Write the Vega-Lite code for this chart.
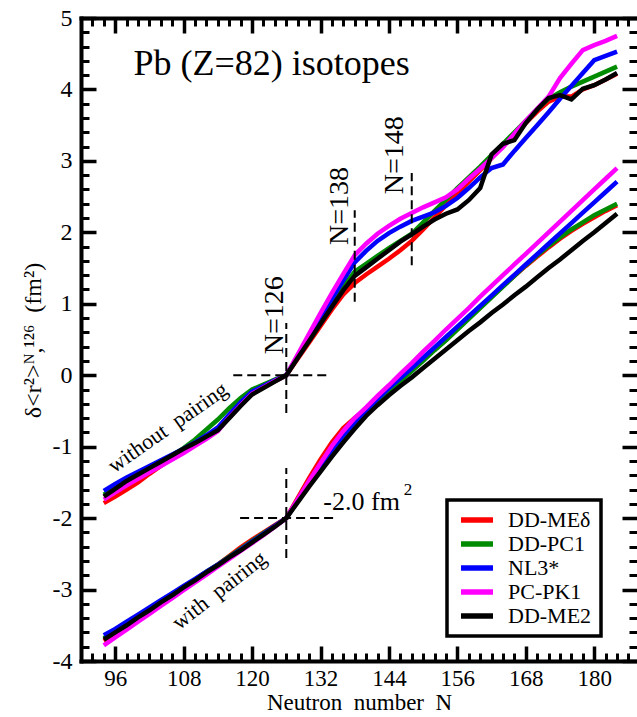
{
  "$schema": "https://vega.github.io/schema/vega-lite/v6.json",
  "width": 556,
  "height": 643,
  "autosize": {"type": "none"},
  "padding": {"left": 81, "top": 18, "right": 0, "bottom": 56},
  "background": "white",
  "config": {
    "font": "Liberation Serif, Times New Roman, DejaVu Serif, serif",
    "view": {"stroke": null},
    "text": {"font": "Liberation Serif, Times New Roman, DejaVu Serif, serif"},
    "axis": {"grid": false, "tickColor": "black", "domainColor": "black", "labelColor": "black", "titleColor": "black", "titleFontWeight": "normal", "domainCap": "square",
      "labelFont": "Liberation Serif, Times New Roman, DejaVu Serif, serif", "titleFont": "Liberation Serif, Times New Roman, DejaVu Serif, serif"},
    "legend": {"strokeWidth": 3.5, "labelFont": "Liberation Serif, Times New Roman, DejaVu Serif, serif"}
  },
  "resolve": {"axis": {"x": "independent", "y": "independent"}},
  "datasets": {
    "without": [
      {"model": "DD-MEδ", "N": 94, "r2": -1.79}, {"model": "DD-MEδ", "N": 96, "r2": -1.70}, {"model": "DD-MEδ", "N": 98, "r2": -1.60}, {"model": "DD-MEδ", "N": 100, "r2": -1.50},
      {"model": "DD-MEδ", "N": 102, "r2": -1.38}, {"model": "DD-MEδ", "N": 104, "r2": -1.27}, {"model": "DD-MEδ", "N": 106, "r2": -1.16}, {"model": "DD-MEδ", "N": 108, "r2": -1.05},
      {"model": "DD-MEδ", "N": 110, "r2": -0.95}, {"model": "DD-MEδ", "N": 112, "r2": -0.85}, {"model": "DD-MEδ", "N": 114, "r2": -0.75}, {"model": "DD-MEδ", "N": 116, "r2": -0.57},
      {"model": "DD-MEδ", "N": 118, "r2": -0.41}, {"model": "DD-MEδ", "N": 120, "r2": -0.25}, {"model": "DD-MEδ", "N": 122, "r2": -0.16}, {"model": "DD-MEδ", "N": 124, "r2": -0.08},
      {"model": "DD-MEδ", "N": 126, "r2": 0}, {"model": "DD-MEδ", "N": 128, "r2": 0.23}, {"model": "DD-MEδ", "N": 130, "r2": 0.46}, {"model": "DD-MEδ", "N": 132, "r2": 0.69},
      {"model": "DD-MEδ", "N": 134, "r2": 0.92}, {"model": "DD-MEδ", "N": 136, "r2": 1.13}, {"model": "DD-MEδ", "N": 138, "r2": 1.29}, {"model": "DD-MEδ", "N": 140, "r2": 1.41},
      {"model": "DD-MEδ", "N": 142, "r2": 1.52}, {"model": "DD-MEδ", "N": 144, "r2": 1.63}, {"model": "DD-MEδ", "N": 146, "r2": 1.75}, {"model": "DD-MEδ", "N": 148, "r2": 1.88},
      {"model": "DD-MEδ", "N": 150, "r2": 2.04}, {"model": "DD-MEδ", "N": 152, "r2": 2.21}, {"model": "DD-MEδ", "N": 154, "r2": 2.38}, {"model": "DD-MEδ", "N": 156, "r2": 2.55},
      {"model": "DD-MEδ", "N": 158, "r2": 2.71}, {"model": "DD-MEδ", "N": 160, "r2": 2.87}, {"model": "DD-MEδ", "N": 162, "r2": 3.04}, {"model": "DD-MEδ", "N": 164, "r2": 3.21},
      {"model": "DD-MEδ", "N": 166, "r2": 3.37}, {"model": "DD-MEδ", "N": 168, "r2": 3.53}, {"model": "DD-MEδ", "N": 170, "r2": 3.69}, {"model": "DD-MEδ", "N": 172, "r2": 3.83},
      {"model": "DD-MEδ", "N": 174, "r2": 3.90}, {"model": "DD-MEδ", "N": 176, "r2": 3.90}, {"model": "DD-MEδ", "N": 178, "r2": 4.00}, {"model": "DD-MEδ", "N": 180, "r2": 4.06},
      {"model": "DD-MEδ", "N": 182, "r2": 4.14}, {"model": "DD-MEδ", "N": 184, "r2": 4.22},

      {"model": "DD-PC1", "N": 94, "r2": -1.67}, {"model": "DD-PC1", "N": 96, "r2": -1.57}, {"model": "DD-PC1", "N": 98, "r2": -1.47}, {"model": "DD-PC1", "N": 100, "r2": -1.38},
      {"model": "DD-PC1", "N": 102, "r2": -1.30}, {"model": "DD-PC1", "N": 104, "r2": -1.21}, {"model": "DD-PC1", "N": 106, "r2": -1.12}, {"model": "DD-PC1", "N": 108, "r2": -1.02},
      {"model": "DD-PC1", "N": 110, "r2": -0.90}, {"model": "DD-PC1", "N": 112, "r2": -0.76}, {"model": "DD-PC1", "N": 114, "r2": -0.62}, {"model": "DD-PC1", "N": 116, "r2": -0.46},
      {"model": "DD-PC1", "N": 118, "r2": -0.32}, {"model": "DD-PC1", "N": 120, "r2": -0.20}, {"model": "DD-PC1", "N": 122, "r2": -0.13}, {"model": "DD-PC1", "N": 124, "r2": -0.06},
      {"model": "DD-PC1", "N": 126, "r2": 0}, {"model": "DD-PC1", "N": 128, "r2": 0.25}, {"model": "DD-PC1", "N": 130, "r2": 0.50}, {"model": "DD-PC1", "N": 132, "r2": 0.75},
      {"model": "DD-PC1", "N": 134, "r2": 1.00}, {"model": "DD-PC1", "N": 136, "r2": 1.24}, {"model": "DD-PC1", "N": 138, "r2": 1.45}, {"model": "DD-PC1", "N": 140, "r2": 1.56},
      {"model": "DD-PC1", "N": 142, "r2": 1.67}, {"model": "DD-PC1", "N": 144, "r2": 1.78}, {"model": "DD-PC1", "N": 146, "r2": 1.88}, {"model": "DD-PC1", "N": 148, "r2": 1.98},
      {"model": "DD-PC1", "N": 150, "r2": 2.14}, {"model": "DD-PC1", "N": 152, "r2": 2.30}, {"model": "DD-PC1", "N": 154, "r2": 2.46}, {"model": "DD-PC1", "N": 156, "r2": 2.62},
      {"model": "DD-PC1", "N": 158, "r2": 2.77}, {"model": "DD-PC1", "N": 160, "r2": 2.92}, {"model": "DD-PC1", "N": 162, "r2": 3.08}, {"model": "DD-PC1", "N": 164, "r2": 3.24},
      {"model": "DD-PC1", "N": 166, "r2": 3.40}, {"model": "DD-PC1", "N": 168, "r2": 3.56}, {"model": "DD-PC1", "N": 170, "r2": 3.72}, {"model": "DD-PC1", "N": 172, "r2": 3.87},
      {"model": "DD-PC1", "N": 174, "r2": 3.96}, {"model": "DD-PC1", "N": 176, "r2": 4.04}, {"model": "DD-PC1", "N": 178, "r2": 4.11}, {"model": "DD-PC1", "N": 180, "r2": 4.18},
      {"model": "DD-PC1", "N": 182, "r2": 4.25}, {"model": "DD-PC1", "N": 184, "r2": 4.32},

      {"model": "NL3*", "N": 94, "r2": -1.62}, {"model": "NL3*", "N": 96, "r2": -1.52}, {"model": "NL3*", "N": 98, "r2": -1.43}, {"model": "NL3*", "N": 100, "r2": -1.35},
      {"model": "NL3*", "N": 102, "r2": -1.27}, {"model": "NL3*", "N": 104, "r2": -1.19}, {"model": "NL3*", "N": 106, "r2": -1.11}, {"model": "NL3*", "N": 108, "r2": -1.03},
      {"model": "NL3*", "N": 110, "r2": -0.94}, {"model": "NL3*", "N": 112, "r2": -0.84}, {"model": "NL3*", "N": 114, "r2": -0.73}, {"model": "NL3*", "N": 116, "r2": -0.55},
      {"model": "NL3*", "N": 118, "r2": -0.38}, {"model": "NL3*", "N": 120, "r2": -0.23}, {"model": "NL3*", "N": 122, "r2": -0.15}, {"model": "NL3*", "N": 124, "r2": -0.07},
      {"model": "NL3*", "N": 126, "r2": 0}, {"model": "NL3*", "N": 128, "r2": 0.27}, {"model": "NL3*", "N": 130, "r2": 0.54}, {"model": "NL3*", "N": 132, "r2": 0.81},
      {"model": "NL3*", "N": 134, "r2": 1.07}, {"model": "NL3*", "N": 136, "r2": 1.33}, {"model": "NL3*", "N": 138, "r2": 1.58}, {"model": "NL3*", "N": 140, "r2": 1.74},
      {"model": "NL3*", "N": 142, "r2": 1.88}, {"model": "NL3*", "N": 144, "r2": 1.99}, {"model": "NL3*", "N": 146, "r2": 2.08}, {"model": "NL3*", "N": 148, "r2": 2.16},
      {"model": "NL3*", "N": 150, "r2": 2.22}, {"model": "NL3*", "N": 152, "r2": 2.28}, {"model": "NL3*", "N": 154, "r2": 2.37}, {"model": "NL3*", "N": 156, "r2": 2.48},
      {"model": "NL3*", "N": 158, "r2": 2.62}, {"model": "NL3*", "N": 160, "r2": 2.77}, {"model": "NL3*", "N": 162, "r2": 2.90}, {"model": "NL3*", "N": 164, "r2": 2.95},
      {"model": "NL3*", "N": 166, "r2": 3.14}, {"model": "NL3*", "N": 168, "r2": 3.32}, {"model": "NL3*", "N": 170, "r2": 3.50}, {"model": "NL3*", "N": 172, "r2": 3.68},
      {"model": "NL3*", "N": 174, "r2": 3.87}, {"model": "NL3*", "N": 176, "r2": 4.05}, {"model": "NL3*", "N": 178, "r2": 4.23}, {"model": "NL3*", "N": 180, "r2": 4.41},
      {"model": "NL3*", "N": 182, "r2": 4.47}, {"model": "NL3*", "N": 184, "r2": 4.53},

      {"model": "PC-PK1", "N": 94, "r2": -1.74}, {"model": "PC-PK1", "N": 96, "r2": -1.64}, {"model": "PC-PK1", "N": 98, "r2": -1.54}, {"model": "PC-PK1", "N": 100, "r2": -1.45},
      {"model": "PC-PK1", "N": 102, "r2": -1.36}, {"model": "PC-PK1", "N": 104, "r2": -1.27}, {"model": "PC-PK1", "N": 106, "r2": -1.18}, {"model": "PC-PK1", "N": 108, "r2": -1.09},
      {"model": "PC-PK1", "N": 110, "r2": -0.99}, {"model": "PC-PK1", "N": 112, "r2": -0.89}, {"model": "PC-PK1", "N": 114, "r2": -0.78}, {"model": "PC-PK1", "N": 116, "r2": -0.59},
      {"model": "PC-PK1", "N": 118, "r2": -0.42}, {"model": "PC-PK1", "N": 120, "r2": -0.26}, {"model": "PC-PK1", "N": 122, "r2": -0.17}, {"model": "PC-PK1", "N": 124, "r2": -0.08},
      {"model": "PC-PK1", "N": 126, "r2": 0}, {"model": "PC-PK1", "N": 128, "r2": 0.29}, {"model": "PC-PK1", "N": 130, "r2": 0.58}, {"model": "PC-PK1", "N": 132, "r2": 0.87},
      {"model": "PC-PK1", "N": 134, "r2": 1.15}, {"model": "PC-PK1", "N": 136, "r2": 1.42}, {"model": "PC-PK1", "N": 138, "r2": 1.68}, {"model": "PC-PK1", "N": 140, "r2": 1.84},
      {"model": "PC-PK1", "N": 142, "r2": 1.98}, {"model": "PC-PK1", "N": 144, "r2": 2.09}, {"model": "PC-PK1", "N": 146, "r2": 2.19}, {"model": "PC-PK1", "N": 148, "r2": 2.27},
      {"model": "PC-PK1", "N": 150, "r2": 2.35}, {"model": "PC-PK1", "N": 152, "r2": 2.42}, {"model": "PC-PK1", "N": 154, "r2": 2.49}, {"model": "PC-PK1", "N": 156, "r2": 2.60},
      {"model": "PC-PK1", "N": 158, "r2": 2.75}, {"model": "PC-PK1", "N": 160, "r2": 2.89}, {"model": "PC-PK1", "N": 162, "r2": 3.04}, {"model": "PC-PK1", "N": 164, "r2": 3.19},
      {"model": "PC-PK1", "N": 166, "r2": 3.38}, {"model": "PC-PK1", "N": 168, "r2": 3.56}, {"model": "PC-PK1", "N": 170, "r2": 3.73}, {"model": "PC-PK1", "N": 172, "r2": 3.90},
      {"model": "PC-PK1", "N": 174, "r2": 4.16}, {"model": "PC-PK1", "N": 176, "r2": 4.36}, {"model": "PC-PK1", "N": 178, "r2": 4.55}, {"model": "PC-PK1", "N": 180, "r2": 4.62},
      {"model": "PC-PK1", "N": 182, "r2": 4.68}, {"model": "PC-PK1", "N": 184, "r2": 4.75},

      {"model": "DD-ME2", "N": 94, "r2": -1.70}, {"model": "DD-ME2", "N": 96, "r2": -1.59}, {"model": "DD-ME2", "N": 98, "r2": -1.48}, {"model": "DD-ME2", "N": 100, "r2": -1.39},
      {"model": "DD-ME2", "N": 102, "r2": -1.30}, {"model": "DD-ME2", "N": 104, "r2": -1.21}, {"model": "DD-ME2", "N": 106, "r2": -1.12}, {"model": "DD-ME2", "N": 108, "r2": -1.03},
      {"model": "DD-ME2", "N": 110, "r2": -0.95}, {"model": "DD-ME2", "N": 112, "r2": -0.86}, {"model": "DD-ME2", "N": 114, "r2": -0.77}, {"model": "DD-ME2", "N": 116, "r2": -0.60},
      {"model": "DD-ME2", "N": 118, "r2": -0.43}, {"model": "DD-ME2", "N": 120, "r2": -0.27}, {"model": "DD-ME2", "N": 122, "r2": -0.18}, {"model": "DD-ME2", "N": 124, "r2": -0.09},
      {"model": "DD-ME2", "N": 126, "r2": 0}, {"model": "DD-ME2", "N": 128, "r2": 0.24}, {"model": "DD-ME2", "N": 130, "r2": 0.48}, {"model": "DD-ME2", "N": 132, "r2": 0.72},
      {"model": "DD-ME2", "N": 134, "r2": 0.96}, {"model": "DD-ME2", "N": 136, "r2": 1.19}, {"model": "DD-ME2", "N": 138, "r2": 1.39}, {"model": "DD-ME2", "N": 140, "r2": 1.51},
      {"model": "DD-ME2", "N": 142, "r2": 1.63}, {"model": "DD-ME2", "N": 144, "r2": 1.75}, {"model": "DD-ME2", "N": 146, "r2": 1.87}, {"model": "DD-ME2", "N": 148, "r2": 1.97},
      {"model": "DD-ME2", "N": 150, "r2": 2.08}, {"model": "DD-ME2", "N": 152, "r2": 2.18}, {"model": "DD-ME2", "N": 154, "r2": 2.26}, {"model": "DD-ME2", "N": 156, "r2": 2.32},
      {"model": "DD-ME2", "N": 158, "r2": 2.45}, {"model": "DD-ME2", "N": 160, "r2": 2.62}, {"model": "DD-ME2", "N": 162, "r2": 3.09}, {"model": "DD-ME2", "N": 164, "r2": 3.24},
      {"model": "DD-ME2", "N": 166, "r2": 3.29}, {"model": "DD-ME2", "N": 168, "r2": 3.53}, {"model": "DD-ME2", "N": 170, "r2": 3.72}, {"model": "DD-ME2", "N": 172, "r2": 3.88},
      {"model": "DD-ME2", "N": 174, "r2": 3.92}, {"model": "DD-ME2", "N": 176, "r2": 3.86}, {"model": "DD-ME2", "N": 178, "r2": 4.01}, {"model": "DD-ME2", "N": 180, "r2": 4.06},
      {"model": "DD-ME2", "N": 182, "r2": 4.14}, {"model": "DD-ME2", "N": 184, "r2": 4.23}
    ],
    "with": [
      {"model": "DD-MEδ", "N": 94, "r2": -3.72}, {"model": "DD-MEδ", "N": 96, "r2": -3.62}, {"model": "DD-MEδ", "N": 98, "r2": -3.52}, {"model": "DD-MEδ", "N": 100, "r2": -3.41},
      {"model": "DD-MEδ", "N": 102, "r2": -3.31}, {"model": "DD-MEδ", "N": 104, "r2": -3.20}, {"model": "DD-MEδ", "N": 106, "r2": -3.09}, {"model": "DD-MEδ", "N": 108, "r2": -2.98},
      {"model": "DD-MEδ", "N": 110, "r2": -2.87}, {"model": "DD-MEδ", "N": 112, "r2": -2.76}, {"model": "DD-MEδ", "N": 114, "r2": -2.65}, {"model": "DD-MEδ", "N": 116, "r2": -2.53},
      {"model": "DD-MEδ", "N": 118, "r2": -2.41}, {"model": "DD-MEδ", "N": 120, "r2": -2.30}, {"model": "DD-MEδ", "N": 122, "r2": -2.20}, {"model": "DD-MEδ", "N": 124, "r2": -2.10},
      {"model": "DD-MEδ", "N": 126, "r2": -2.00}, {"model": "DD-MEδ", "N": 128, "r2": -1.72}, {"model": "DD-MEδ", "N": 130, "r2": -1.44}, {"model": "DD-MEδ", "N": 132, "r2": -1.18},
      {"model": "DD-MEδ", "N": 134, "r2": -0.94}, {"model": "DD-MEδ", "N": 136, "r2": -0.74}, {"model": "DD-MEδ", "N": 138, "r2": -0.60}, {"model": "DD-MEδ", "N": 140, "r2": -0.47},
      {"model": "DD-MEδ", "N": 142, "r2": -0.33}, {"model": "DD-MEδ", "N": 144, "r2": -0.19}, {"model": "DD-MEδ", "N": 146, "r2": -0.05}, {"model": "DD-MEδ", "N": 148, "r2": 0.08},
      {"model": "DD-MEδ", "N": 150, "r2": 0.22}, {"model": "DD-MEδ", "N": 152, "r2": 0.36}, {"model": "DD-MEδ", "N": 154, "r2": 0.50}, {"model": "DD-MEδ", "N": 156, "r2": 0.65},
      {"model": "DD-MEδ", "N": 158, "r2": 0.80}, {"model": "DD-MEδ", "N": 160, "r2": 0.95}, {"model": "DD-MEδ", "N": 162, "r2": 1.10}, {"model": "DD-MEδ", "N": 164, "r2": 1.25},
      {"model": "DD-MEδ", "N": 166, "r2": 1.39}, {"model": "DD-MEδ", "N": 168, "r2": 1.53}, {"model": "DD-MEδ", "N": 170, "r2": 1.66}, {"model": "DD-MEδ", "N": 172, "r2": 1.79},
      {"model": "DD-MEδ", "N": 174, "r2": 1.91}, {"model": "DD-MEδ", "N": 176, "r2": 2.02}, {"model": "DD-MEδ", "N": 178, "r2": 2.12}, {"model": "DD-MEδ", "N": 180, "r2": 2.21},
      {"model": "DD-MEδ", "N": 182, "r2": 2.30}, {"model": "DD-MEδ", "N": 184, "r2": 2.38},

      {"model": "DD-PC1", "N": 94, "r2": -3.68}, {"model": "DD-PC1", "N": 96, "r2": -3.58}, {"model": "DD-PC1", "N": 98, "r2": -3.48}, {"model": "DD-PC1", "N": 100, "r2": -3.38},
      {"model": "DD-PC1", "N": 102, "r2": -3.28}, {"model": "DD-PC1", "N": 104, "r2": -3.17}, {"model": "DD-PC1", "N": 106, "r2": -3.07}, {"model": "DD-PC1", "N": 108, "r2": -2.96},
      {"model": "DD-PC1", "N": 110, "r2": -2.86}, {"model": "DD-PC1", "N": 112, "r2": -2.75}, {"model": "DD-PC1", "N": 114, "r2": -2.65}, {"model": "DD-PC1", "N": 116, "r2": -2.54},
      {"model": "DD-PC1", "N": 118, "r2": -2.43}, {"model": "DD-PC1", "N": 120, "r2": -2.32}, {"model": "DD-PC1", "N": 122, "r2": -2.21}, {"model": "DD-PC1", "N": 124, "r2": -2.11},
      {"model": "DD-PC1", "N": 126, "r2": -2.00}, {"model": "DD-PC1", "N": 128, "r2": -1.76}, {"model": "DD-PC1", "N": 130, "r2": -1.52}, {"model": "DD-PC1", "N": 132, "r2": -1.29},
      {"model": "DD-PC1", "N": 134, "r2": -1.08}, {"model": "DD-PC1", "N": 136, "r2": -0.88}, {"model": "DD-PC1", "N": 138, "r2": -0.70}, {"model": "DD-PC1", "N": 140, "r2": -0.53},
      {"model": "DD-PC1", "N": 142, "r2": -0.37}, {"model": "DD-PC1", "N": 144, "r2": -0.22}, {"model": "DD-PC1", "N": 146, "r2": -0.08}, {"model": "DD-PC1", "N": 148, "r2": 0.06},
      {"model": "DD-PC1", "N": 150, "r2": 0.20}, {"model": "DD-PC1", "N": 152, "r2": 0.35}, {"model": "DD-PC1", "N": 154, "r2": 0.49}, {"model": "DD-PC1", "N": 156, "r2": 0.64},
      {"model": "DD-PC1", "N": 158, "r2": 0.79}, {"model": "DD-PC1", "N": 160, "r2": 0.94}, {"model": "DD-PC1", "N": 162, "r2": 1.09}, {"model": "DD-PC1", "N": 164, "r2": 1.24},
      {"model": "DD-PC1", "N": 166, "r2": 1.39}, {"model": "DD-PC1", "N": 168, "r2": 1.54}, {"model": "DD-PC1", "N": 170, "r2": 1.68}, {"model": "DD-PC1", "N": 172, "r2": 1.81},
      {"model": "DD-PC1", "N": 174, "r2": 1.93}, {"model": "DD-PC1", "N": 176, "r2": 2.04}, {"model": "DD-PC1", "N": 178, "r2": 2.14}, {"model": "DD-PC1", "N": 180, "r2": 2.24},
      {"model": "DD-PC1", "N": 182, "r2": 2.32}, {"model": "DD-PC1", "N": 184, "r2": 2.40},

      {"model": "NL3*", "N": 94, "r2": -3.64}, {"model": "NL3*", "N": 96, "r2": -3.55}, {"model": "NL3*", "N": 98, "r2": -3.45}, {"model": "NL3*", "N": 100, "r2": -3.35},
      {"model": "NL3*", "N": 102, "r2": -3.25}, {"model": "NL3*", "N": 104, "r2": -3.15}, {"model": "NL3*", "N": 106, "r2": -3.05}, {"model": "NL3*", "N": 108, "r2": -2.95},
      {"model": "NL3*", "N": 110, "r2": -2.85}, {"model": "NL3*", "N": 112, "r2": -2.75}, {"model": "NL3*", "N": 114, "r2": -2.65}, {"model": "NL3*", "N": 116, "r2": -2.55},
      {"model": "NL3*", "N": 118, "r2": -2.44}, {"model": "NL3*", "N": 120, "r2": -2.33}, {"model": "NL3*", "N": 122, "r2": -2.22}, {"model": "NL3*", "N": 124, "r2": -2.11},
      {"model": "NL3*", "N": 126, "r2": -2.00}, {"model": "NL3*", "N": 128, "r2": -1.75}, {"model": "NL3*", "N": 130, "r2": -1.50}, {"model": "NL3*", "N": 132, "r2": -1.26},
      {"model": "NL3*", "N": 134, "r2": -1.04}, {"model": "NL3*", "N": 136, "r2": -0.84}, {"model": "NL3*", "N": 138, "r2": -0.66}, {"model": "NL3*", "N": 140, "r2": -0.49},
      {"model": "NL3*", "N": 142, "r2": -0.33}, {"model": "NL3*", "N": 144, "r2": -0.18}, {"model": "NL3*", "N": 146, "r2": -0.04}, {"model": "NL3*", "N": 148, "r2": 0.10},
      {"model": "NL3*", "N": 150, "r2": 0.245}, {"model": "NL3*", "N": 152, "r2": 0.39}, {"model": "NL3*", "N": 154, "r2": 0.535}, {"model": "NL3*", "N": 156, "r2": 0.68},
      {"model": "NL3*", "N": 158, "r2": 0.825}, {"model": "NL3*", "N": 160, "r2": 0.97}, {"model": "NL3*", "N": 162, "r2": 1.115}, {"model": "NL3*", "N": 164, "r2": 1.26},
      {"model": "NL3*", "N": 166, "r2": 1.405}, {"model": "NL3*", "N": 168, "r2": 1.55}, {"model": "NL3*", "N": 170, "r2": 1.695}, {"model": "NL3*", "N": 172, "r2": 1.84},
      {"model": "NL3*", "N": 174, "r2": 1.985}, {"model": "NL3*", "N": 176, "r2": 2.13}, {"model": "NL3*", "N": 178, "r2": 2.275}, {"model": "NL3*", "N": 180, "r2": 2.42},
      {"model": "NL3*", "N": 182, "r2": 2.565}, {"model": "NL3*", "N": 184, "r2": 2.71},

      {"model": "PC-PK1", "N": 94, "r2": -3.78}, {"model": "PC-PK1", "N": 96, "r2": -3.67}, {"model": "PC-PK1", "N": 98, "r2": -3.56}, {"model": "PC-PK1", "N": 100, "r2": -3.45},
      {"model": "PC-PK1", "N": 102, "r2": -3.34}, {"model": "PC-PK1", "N": 104, "r2": -3.23}, {"model": "PC-PK1", "N": 106, "r2": -3.12}, {"model": "PC-PK1", "N": 108, "r2": -3.01},
      {"model": "PC-PK1", "N": 110, "r2": -2.90}, {"model": "PC-PK1", "N": 112, "r2": -2.79}, {"model": "PC-PK1", "N": 114, "r2": -2.68}, {"model": "PC-PK1", "N": 116, "r2": -2.57},
      {"model": "PC-PK1", "N": 118, "r2": -2.46}, {"model": "PC-PK1", "N": 120, "r2": -2.35}, {"model": "PC-PK1", "N": 122, "r2": -2.24}, {"model": "PC-PK1", "N": 124, "r2": -2.12},
      {"model": "PC-PK1", "N": 126, "r2": -2.00}, {"model": "PC-PK1", "N": 128, "r2": -1.74}, {"model": "PC-PK1", "N": 130, "r2": -1.48}, {"model": "PC-PK1", "N": 132, "r2": -1.23},
      {"model": "PC-PK1", "N": 134, "r2": -0.99}, {"model": "PC-PK1", "N": 136, "r2": -0.78}, {"model": "PC-PK1", "N": 138, "r2": -0.60}, {"model": "PC-PK1", "N": 140, "r2": -0.45},
      {"model": "PC-PK1", "N": 142, "r2": -0.29}, {"model": "PC-PK1", "N": 144, "r2": -0.14}, {"model": "PC-PK1", "N": 146, "r2": 0.02}, {"model": "PC-PK1", "N": 148, "r2": 0.17},
      {"model": "PC-PK1", "N": 150, "r2": 0.33}, {"model": "PC-PK1", "N": 152, "r2": 0.48}, {"model": "PC-PK1", "N": 154, "r2": 0.64}, {"model": "PC-PK1", "N": 156, "r2": 0.79},
      {"model": "PC-PK1", "N": 158, "r2": 0.94}, {"model": "PC-PK1", "N": 160, "r2": 1.10}, {"model": "PC-PK1", "N": 162, "r2": 1.25}, {"model": "PC-PK1", "N": 164, "r2": 1.40},
      {"model": "PC-PK1", "N": 166, "r2": 1.55}, {"model": "PC-PK1", "N": 168, "r2": 1.70}, {"model": "PC-PK1", "N": 170, "r2": 1.85}, {"model": "PC-PK1", "N": 172, "r2": 2.00},
      {"model": "PC-PK1", "N": 174, "r2": 2.15}, {"model": "PC-PK1", "N": 176, "r2": 2.30}, {"model": "PC-PK1", "N": 178, "r2": 2.45}, {"model": "PC-PK1", "N": 180, "r2": 2.60},
      {"model": "PC-PK1", "N": 182, "r2": 2.75}, {"model": "PC-PK1", "N": 184, "r2": 2.90},

      {"model": "DD-ME2", "N": 94, "r2": -3.70}, {"model": "DD-ME2", "N": 96, "r2": -3.60}, {"model": "DD-ME2", "N": 98, "r2": -3.50}, {"model": "DD-ME2", "N": 100, "r2": -3.39},
      {"model": "DD-ME2", "N": 102, "r2": -3.29}, {"model": "DD-ME2", "N": 104, "r2": -3.18}, {"model": "DD-ME2", "N": 106, "r2": -3.08}, {"model": "DD-ME2", "N": 108, "r2": -2.97},
      {"model": "DD-ME2", "N": 110, "r2": -2.87}, {"model": "DD-ME2", "N": 112, "r2": -2.76}, {"model": "DD-ME2", "N": 114, "r2": -2.66}, {"model": "DD-ME2", "N": 116, "r2": -2.55},
      {"model": "DD-ME2", "N": 118, "r2": -2.45}, {"model": "DD-ME2", "N": 120, "r2": -2.34}, {"model": "DD-ME2", "N": 122, "r2": -2.23}, {"model": "DD-ME2", "N": 124, "r2": -2.12},
      {"model": "DD-ME2", "N": 126, "r2": -2.00}, {"model": "DD-ME2", "N": 128, "r2": -1.78}, {"model": "DD-ME2", "N": 130, "r2": -1.56}, {"model": "DD-ME2", "N": 132, "r2": -1.35},
      {"model": "DD-ME2", "N": 134, "r2": -1.14}, {"model": "DD-ME2", "N": 136, "r2": -0.94}, {"model": "DD-ME2", "N": 138, "r2": -0.75}, {"model": "DD-ME2", "N": 140, "r2": -0.57},
      {"model": "DD-ME2", "N": 142, "r2": -0.42}, {"model": "DD-ME2", "N": 144, "r2": -0.28}, {"model": "DD-ME2", "N": 146, "r2": -0.15}, {"model": "DD-ME2", "N": 148, "r2": -0.03},
      {"model": "DD-ME2", "N": 150, "r2": 0.10}, {"model": "DD-ME2", "N": 152, "r2": 0.23}, {"model": "DD-ME2", "N": 154, "r2": 0.36}, {"model": "DD-ME2", "N": 156, "r2": 0.49},
      {"model": "DD-ME2", "N": 158, "r2": 0.62}, {"model": "DD-ME2", "N": 160, "r2": 0.74}, {"model": "DD-ME2", "N": 162, "r2": 0.87}, {"model": "DD-ME2", "N": 164, "r2": 0.99},
      {"model": "DD-ME2", "N": 166, "r2": 1.12}, {"model": "DD-ME2", "N": 168, "r2": 1.24}, {"model": "DD-ME2", "N": 170, "r2": 1.37}, {"model": "DD-ME2", "N": 172, "r2": 1.50},
      {"model": "DD-ME2", "N": 174, "r2": 1.62}, {"model": "DD-ME2", "N": 176, "r2": 1.75}, {"model": "DD-ME2", "N": 178, "r2": 1.88}, {"model": "DD-ME2", "N": 180, "r2": 2.00},
      {"model": "DD-ME2", "N": 182, "r2": 2.13}, {"model": "DD-ME2", "N": 184, "r2": 2.26}
    ],
    "guides": [
      {"N": 116.7, "N2": 133.4, "r2": 0, "r2b": 0},
      {"N": 126, "N2": 126, "r2": -0.53, "r2b": 0.73},
      {"N": 117.9, "N2": 134.8, "r2": -2, "r2b": -2},
      {"N": 126, "N2": 126, "r2": -2.56, "r2b": -1.3},
      {"N": 138, "N2": 138, "r2": 1.03, "r2b": 2.31},
      {"N": 148, "N2": 148, "r2": 1.54, "r2b": 2.83}
    ],
    "one": [{}]
  },
  "layer": [
    {
      "data": {"name": "without"},
      "mark": {"type": "line", "strokeWidth": 4.5, "strokeJoin": "miter"},
      "encoding": {
        "x": {"field": "N", "type": "quantitative",
          "scale": {"domain": [90, 187.5], "nice": false, "zero": false},
          "axis": {"orient": "bottom", "values": [96, 108, 120, 132, 144, 156, 168, 180], "tickSize": -15, "tickWidth": 3.5,
            "domain": true, "domainWidth": 4, "labelFontSize": 23, "labelPadding": 21, "labelFlush": false, "labelOverlap": false,
            "title": "Neutron\u00a0 number\u00a0 N", "titleFontSize": 23, "titleX": 278, "titleY": 48, "titleBaseline": "alphabetic", "titleAlign": "center"}},
        "y": {"field": "r2", "type": "quantitative",
          "scale": {"domain": [-4, 5], "nice": false, "zero": false},
          "axis": {"orient": "left", "values": [-4, -3, -2, -1, 0, 1, 2, 3, 4, 5], "tickSize": -15, "tickWidth": 3.5,
            "domain": true, "domainWidth": 4, "labelFontSize": 24, "labelPadding": 24, "labelFlush": false, "labelOverlap": false,
            "labelExpr": "datum.value + ''",
            "title": "δ<r²>ᴺ,¹²⁶\u00a0 (fm²)", "titleFontSize": 24, "titleAngle": 270, "titleX": -41, "titleY": 322, "titleBaseline": "alphabetic", "titleAlign": "center"}},
        "color": {"field": "model", "type": "nominal",
          "scale": {"domain": ["DD-MEδ", "DD-PC1", "NL3*", "PC-PK1", "DD-ME2"], "range": ["#ff0000", "#008b00", "#0000ff", "#ff00ff", "#000000"]},
          "legend": {"orient": "none", "legendX": 366, "legendY": 482, "title": null, "symbolType": "M-2,0L2,0", "symbolSize": 256,
            "symbolStrokeWidth": 5.5, "symbolOffset": 10, "labelOffset": 20, "labelFontSize": 22, "labelColor": "black",
            "padding": 9, "rowPadding": 2, "strokeColor": "black"}}
      }
    },
    {
      "data": {"name": "with"},
      "mark": {"type": "line", "strokeWidth": 4.5, "strokeJoin": "miter"},
      "encoding": {
        "x": {"field": "N", "type": "quantitative",
          "scale": {"domain": [90, 187.5], "nice": false, "zero": false},
          "axis": {"orient": "bottom", "values": [90, 92, 94, 96, 98, 100, 102, 104, 106, 108, 110, 112, 114, 116, 118, 120, 122, 124, 126, 128, 130, 132, 134, 136, 138, 140, 142, 144, 146, 148, 150, 152, 154, 156, 158, 160, 162, 164, 166, 168, 170, 172, 174, 176, 178, 180, 182, 184, 186],
            "tickSize": -8, "tickWidth": 3, "domain": false, "labels": false, "title": null}},
        "y": {"field": "r2", "type": "quantitative",
          "scale": {"domain": [-4, 5], "nice": false, "zero": false},
          "axis": {"orient": "left", "values": [-3.8, -3.6, -3.4, -3.2, -2.8, -2.6, -2.4, -2.2, -1.8, -1.6, -1.4, -1.2, -0.8, -0.6, -0.4, -0.2, 0.2, 0.4, 0.6, 0.8, 1.2, 1.4, 1.6, 1.8, 2.2, 2.4, 2.6, 2.8, 3.2, 3.4, 3.6, 3.8, 4.2, 4.4, 4.6, 4.8],
            "tickSize": -8, "tickWidth": 3, "domain": false, "labels": false, "title": null}},
        "color": {"field": "model", "type": "nominal",
          "scale": {"domain": ["DD-MEδ", "DD-PC1", "NL3*", "PC-PK1", "DD-ME2"], "range": ["#ff0000", "#008b00", "#0000ff", "#ff00ff", "#000000"]},
          "legend": null}
      }
    },
    {
      "data": {"name": "guides"},
      "mark": {"type": "rule", "color": "black", "strokeWidth": 2, "strokeDash": [9, 5]},
      "encoding": {
        "x": {"field": "N", "type": "quantitative",
          "scale": {"domain": [90, 187.5], "nice": false, "zero": false},
          "axis": {"orient": "top", "values": [96, 108, 120, 132, 144, 156, 168, 180], "tickSize": -15, "tickWidth": 3.5,
            "domain": true, "domainWidth": 4, "labels": false, "title": null}},
        "x2": {"field": "N2"},
        "y": {"field": "r2", "type": "quantitative",
          "scale": {"domain": [-4, 5], "nice": false, "zero": false},
          "axis": {"orient": "right", "values": [-4, -3, -2, -1, 0, 1, 2, 3, 4, 5], "tickSize": -15, "tickWidth": 3.5,
            "domain": false, "labels": false, "title": null}},
        "y2": {"field": "r2b"}
      }
    },
    {
      "data": {"name": "one"},
      "mark": {"type": "text", "fontSize": 36, "align": "left", "baseline": "alphabetic", "color": "black"},
      "encoding": {
        "x": {"datum": 99.2, "type": "quantitative",
          "scale": {"domain": [90, 187.5], "nice": false, "zero": false},
          "axis": {"orient": "top", "values": [90, 92, 94, 96, 98, 100, 102, 104, 106, 108, 110, 112, 114, 116, 118, 120, 122, 124, 126, 128, 130, 132, 134, 136, 138, 140, 142, 144, 146, 148, 150, 152, 154, 156, 158, 160, 162, 164, 166, 168, 170, 172, 174, 176, 178, 180, 182, 184, 186],
            "tickSize": -8, "tickWidth": 3, "domain": false, "labels": false, "title": null}},
        "y": {"datum": 4.2, "type": "quantitative",
          "scale": {"domain": [-4, 5], "nice": false, "zero": false},
          "axis": {"orient": "right", "values": [-3.8, -3.6, -3.4, -3.2, -2.8, -2.6, -2.4, -2.2, -1.8, -1.6, -1.4, -1.2, -0.8, -0.6, -0.4, -0.2, 0.2, 0.4, 0.6, 0.8, 1.2, 1.4, 1.6, 1.8, 2.2, 2.4, 2.6, 2.8, 3.2, 3.4, 3.6, 3.8, 4.2, 4.4, 4.6, 4.8],
            "tickSize": -8, "tickWidth": 3, "domain": false, "labels": false, "title": null}},
        "text": {"value": "Pb (Z=82) isotopes"}
      }
    },
    {
      "data": {"name": "one"},
      "mark": {"type": "text", "fontSize": 28, "angle": 270, "align": "center", "baseline": "alphabetic", "color": "black"},
      "encoding": {
        "x": {"datum": 125.45, "type": "quantitative", "scale": {"domain": [90, 187.5], "nice": false, "zero": false}, "axis": null},
        "y": {"datum": 0.84, "type": "quantitative", "scale": {"domain": [-4, 5], "nice": false, "zero": false}, "axis": null},
        "text": {"value": "N=126"}
      }
    },
    {
      "data": {"name": "one"},
      "mark": {"type": "text", "fontSize": 28, "angle": 270, "align": "center", "baseline": "alphabetic", "color": "black"},
      "encoding": {
        "x": {"datum": 136.9, "type": "quantitative", "scale": {"domain": [90, 187.5], "nice": false, "zero": false}, "axis": null},
        "y": {"datum": 2.37, "type": "quantitative", "scale": {"domain": [-4, 5], "nice": false, "zero": false}, "axis": null},
        "text": {"value": "N=138"}
      }
    },
    {
      "data": {"name": "one"},
      "mark": {"type": "text", "fontSize": 28, "angle": 270, "align": "center", "baseline": "alphabetic", "color": "black"},
      "encoding": {
        "x": {"datum": 146.55, "type": "quantitative", "scale": {"domain": [90, 187.5], "nice": false, "zero": false}, "axis": null},
        "y": {"datum": 3.08, "type": "quantitative", "scale": {"domain": [-4, 5], "nice": false, "zero": false}, "axis": null},
        "text": {"value": "N=148"}
      }
    },
    {
      "data": {"name": "one"},
      "mark": {"type": "text", "fontSize": 22, "angle": 325, "align": "center", "baseline": "middle", "color": "black"},
      "encoding": {
        "x": {"datum": 105.2, "type": "quantitative", "scale": {"domain": [90, 187.5], "nice": false, "zero": false}, "axis": null},
        "y": {"datum": -0.73, "type": "quantitative", "scale": {"domain": [-4, 5], "nice": false, "zero": false}, "axis": null},
        "text": {"value": "without\u00a0 pairing"}
      }
    },
    {
      "data": {"name": "one"},
      "mark": {"type": "text", "fontSize": 22, "angle": 322, "align": "center", "baseline": "middle", "color": "black"},
      "encoding": {
        "x": {"datum": 114.25, "type": "quantitative", "scale": {"domain": [90, 187.5], "nice": false, "zero": false}, "axis": null},
        "y": {"datum": -3.01, "type": "quantitative", "scale": {"domain": [-4, 5], "nice": false, "zero": false}, "axis": null},
        "text": {"value": "with\u00a0 pairing"}
      }
    },
    {
      "data": {"name": "one"},
      "mark": {"type": "text", "fontSize": 26, "align": "left", "baseline": "alphabetic", "color": "black"},
      "encoding": {
        "x": {"datum": 132.5, "type": "quantitative", "scale": {"domain": [90, 187.5], "nice": false, "zero": false}, "axis": null},
        "y": {"datum": -1.887, "type": "quantitative", "scale": {"domain": [-4, 5], "nice": false, "zero": false}, "axis": null},
        "text": {"value": "-2.0 fm"}
      }
    },
    {
      "data": {"name": "one"},
      "mark": {"type": "text", "fontSize": 17, "align": "left", "baseline": "alphabetic", "color": "black"},
      "encoding": {
        "x": {"datum": 146.6, "type": "quantitative", "scale": {"domain": [90, 187.5], "nice": false, "zero": false}, "axis": null},
        "y": {"datum": -1.67, "type": "quantitative", "scale": {"domain": [-4, 5], "nice": false, "zero": false}, "axis": null},
        "text": {"value": "2"}
      }
    }
  ]
}
